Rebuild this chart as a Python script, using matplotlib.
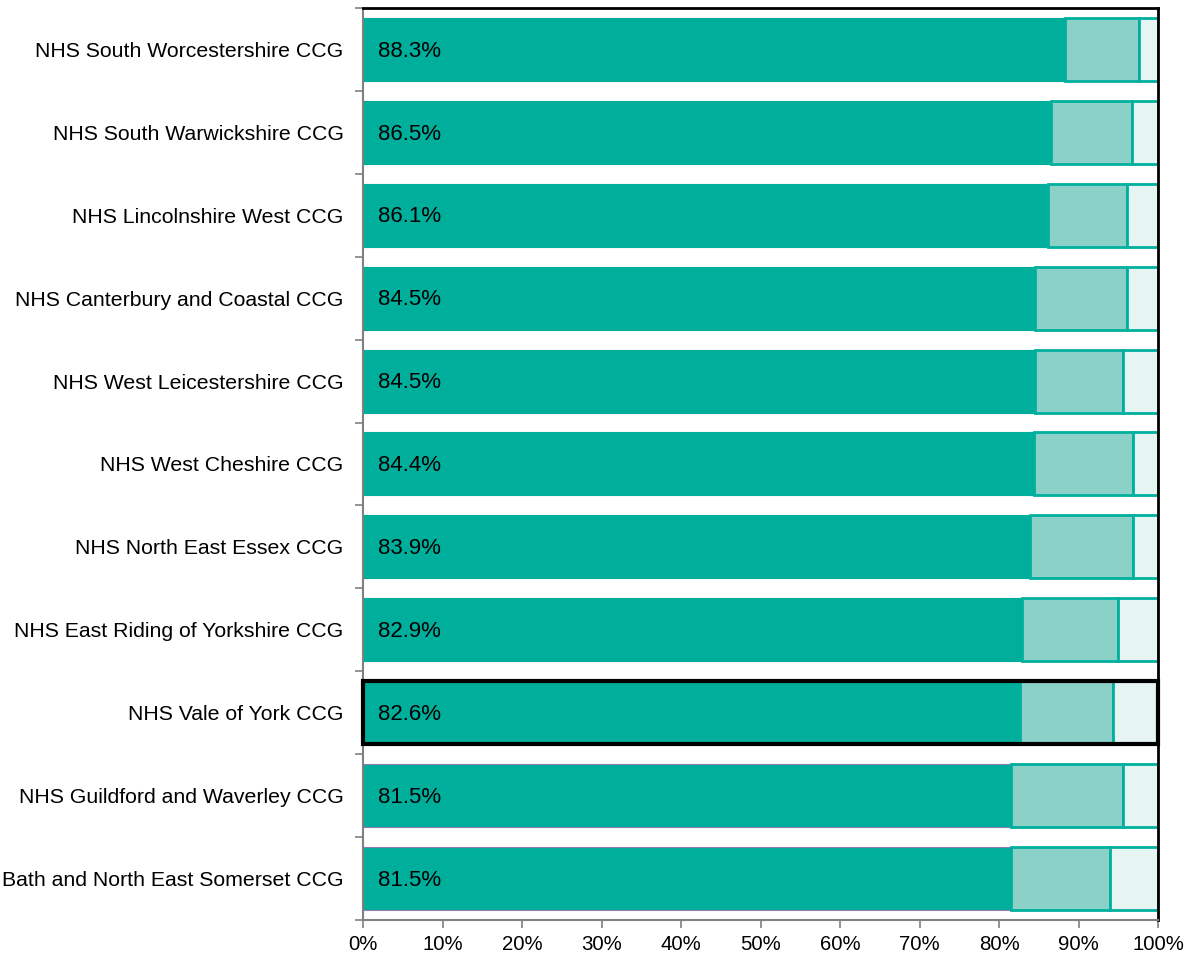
import matplotlib
matplotlib.use("Agg")
import matplotlib.pyplot as plt
import numpy as np
from matplotlib.patches import Rectangle
from matplotlib.ticker import FixedLocator, FuncFormatter

plt.rcParams['font.family'] = ['Liberation Sans', 'DejaVu Sans']

categories = [
    "NHS South Worcestershire CCG",
    "NHS South Warwickshire CCG",
    "NHS Lincolnshire West CCG",
    "NHS Canterbury and Coastal CCG",
    "NHS West Leicestershire CCG",
    "NHS West Cheshire CCG",
    "NHS North East Essex CCG",
    "NHS East Riding of Yorkshire CCG",
    "NHS Vale of York CCG",
    "NHS Guildford and Waverley CCG",
    "Bath and North East Somerset CCG",
]
good = [88.3, 86.5, 86.1, 84.5, 84.5, 84.4, 83.9, 82.9, 82.6, 81.5, 81.5]
middle = [9.3, 10.2, 10.0, 11.6, 11.1, 12.5, 13.0, 12.0, 11.7, 14.1, 12.4]
rest = [round(100 - g - m, 1) for g, m in zip(good, middle)]
highlight = "NHS Vale of York CCG"
xticks = [0, 10, 20, 30, 40, 50, 60, 70, 80, 90, 100]

c_dark = "#00AE9C"
c_mid = "#8BD1C8"
c_light = "#E6F4F2"
c_edge = "#00B09E"

fig = plt.figure(figsize=(11.88, 9.56), dpi=100)
ax = fig.add_axes([0.3056, 0.0377, 0.6692, 0.9539])

n = len(categories)
y = np.arange(n)
h = 0.76
dark_edges = [c_dark] * (n - 2) + ["#8E7CB0"] * 2

ax.barh(y, good, height=h, color=c_dark, edgecolor=dark_edges, linewidth=0.8, zorder=2)
ax.barh(y, middle, left=good, height=h, color=c_mid, edgecolor=c_edge, linewidth=2, zorder=2)
left3 = [g + m for g, m in zip(good, middle)]
ax.barh(y, rest, left=left3, height=h, color=c_light, edgecolor=c_edge, linewidth=2, zorder=2)

for i, (cat, g) in enumerate(zip(categories, good)):
    ax.text(1.9, i + 0.02, f"{g:.1f}%", va="center", ha="left", fontsize=16, color="black", zorder=4)
    if cat == highlight:
        ax.add_patch(Rectangle((0, i - h / 2), 100, h, fill=False, edgecolor="black",
                               linewidth=3, zorder=5, clip_on=False))

ax.set_xlim(0, 100)
ax.set_ylim(n - 0.5, -0.5)
ax.set_yticks(y)
ax.set_yticklabels(categories, fontsize=15.3)
ax.tick_params(axis="y", which="major", length=0, pad=14)
ax.yaxis.set_minor_locator(FixedLocator(np.arange(-0.5, n, 1.0)))
ax.tick_params(axis="y", which="minor", length=6, color="#808080", width=1.2)
ax.set_xticks(xticks)
ax.xaxis.set_major_formatter(FuncFormatter(lambda v, p: f"{int(v)}%"))
ax.tick_params(axis="x", length=6, color="#808080", width=1.2, labelsize=14.7, pad=5)

for s in ["left", "bottom"]:
    ax.spines[s].set_color("#808080")
    ax.spines[s].set_linewidth(1.5)
for s in ["top", "right"]:
    ax.spines[s].set_color("black")
    ax.spines[s].set_linewidth(2)

fig.savefig("out.png", dpi=100)
